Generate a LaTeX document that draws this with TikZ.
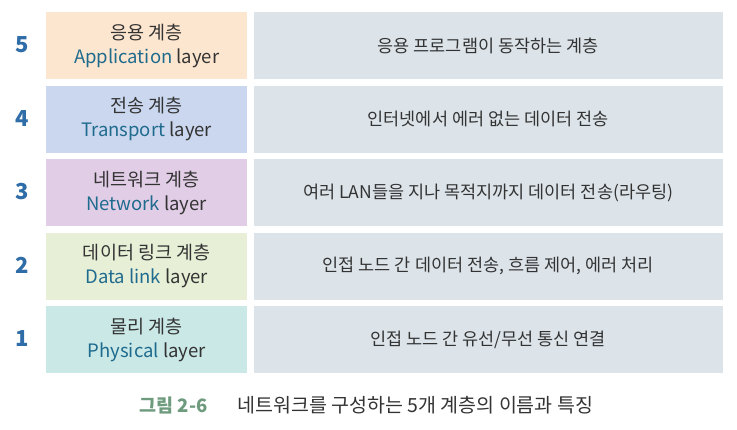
\documentclass[tikz,border=0pt]{standalone}
\usepackage{fontspec}
\setmainfont{Noto Sans CJK KR}
\definecolor{numblue}{HTML}{2E6DA8}
\definecolor{engblue}{HTML}{1F6B8E}
\definecolor{txtgray}{HTML}{333333}
\definecolor{capgreen}{HTML}{6E9A7E}
\definecolor{rightbg}{HTML}{DCE4EA}
\definecolor{cA}{HTML}{FDE6CF}
\definecolor{cB}{HTML}{CAD7EE}
\definecolor{cC}{HTML}{E1CDE6}
\definecolor{cD}{HTML}{E7F0D7}
\definecolor{cE}{HTML}{C9E8E6}
\tikzset{
  x=1pt,y=-1pt,
  leftbox/.style={rectangle,inner sep=0,minimum width=201pt,minimum height=67pt,anchor=north west,align=center,text=txtgray,font=\fontsize{18.5}{24}\selectfont},
  rightbox/.style={rectangle,fill=rightbg,inner sep=0,minimum width=469pt,minimum height=67pt,anchor=north west,align=center,text=txtgray,font=\fontsize{17.5}{20}\selectfont},
  numlabel/.style={text=numblue,font=\fontsize{22}{22}\selectfont\bfseries},
}
\begin{document}
\begin{tikzpicture}
\useasboundingbox (0,0) rectangle (737,430);
\fill[white] (0,0) rectangle (737,430);
\foreach \i/\y/\c/\kr/\en/\desc in {
 5/12/cA/응용 계층/Application/응용 프로그램이 동작하는 계층,
 4/85.5/cB/전송 계층/Transport/인터넷에서 에러 없는 데이터 전송,
 3/159/cC/네트워크 계층/Network/여러 LAN들을 지나 목적지까지 데이터 전송(라우팅),
 2/232.5/cD/데이터 링크 계층/Data link/{인접 노드 간 데이터 전송, 흐름 제어, 에러 처리},
 1/306/cE/물리 계층/Physical/{인접 노드 간 유선/무선 통신 연결}}{
  \node[leftbox,fill=\c] (L\i) at (46,\y) {\kr\\\textcolor{engblue}{\en} layer};
  \node[rightbox] (R\i) at (253.5,\y) {\desc};
  \node[numlabel] (N\i) at (22,\y+33) {\i};
}
\node[anchor=west,text=capgreen,font=\fontsize{18.5}{18}\selectfont\bfseries] (cap) at (136,405) {그림 2-6};
\node[anchor=west,text=txtgray,font=\fontsize{19.5}{18}\selectfont] (capt) at (234,405) {네트워크를 구성하는 5개 계층의 이름과 특징};
\end{tikzpicture}
\end{document}
